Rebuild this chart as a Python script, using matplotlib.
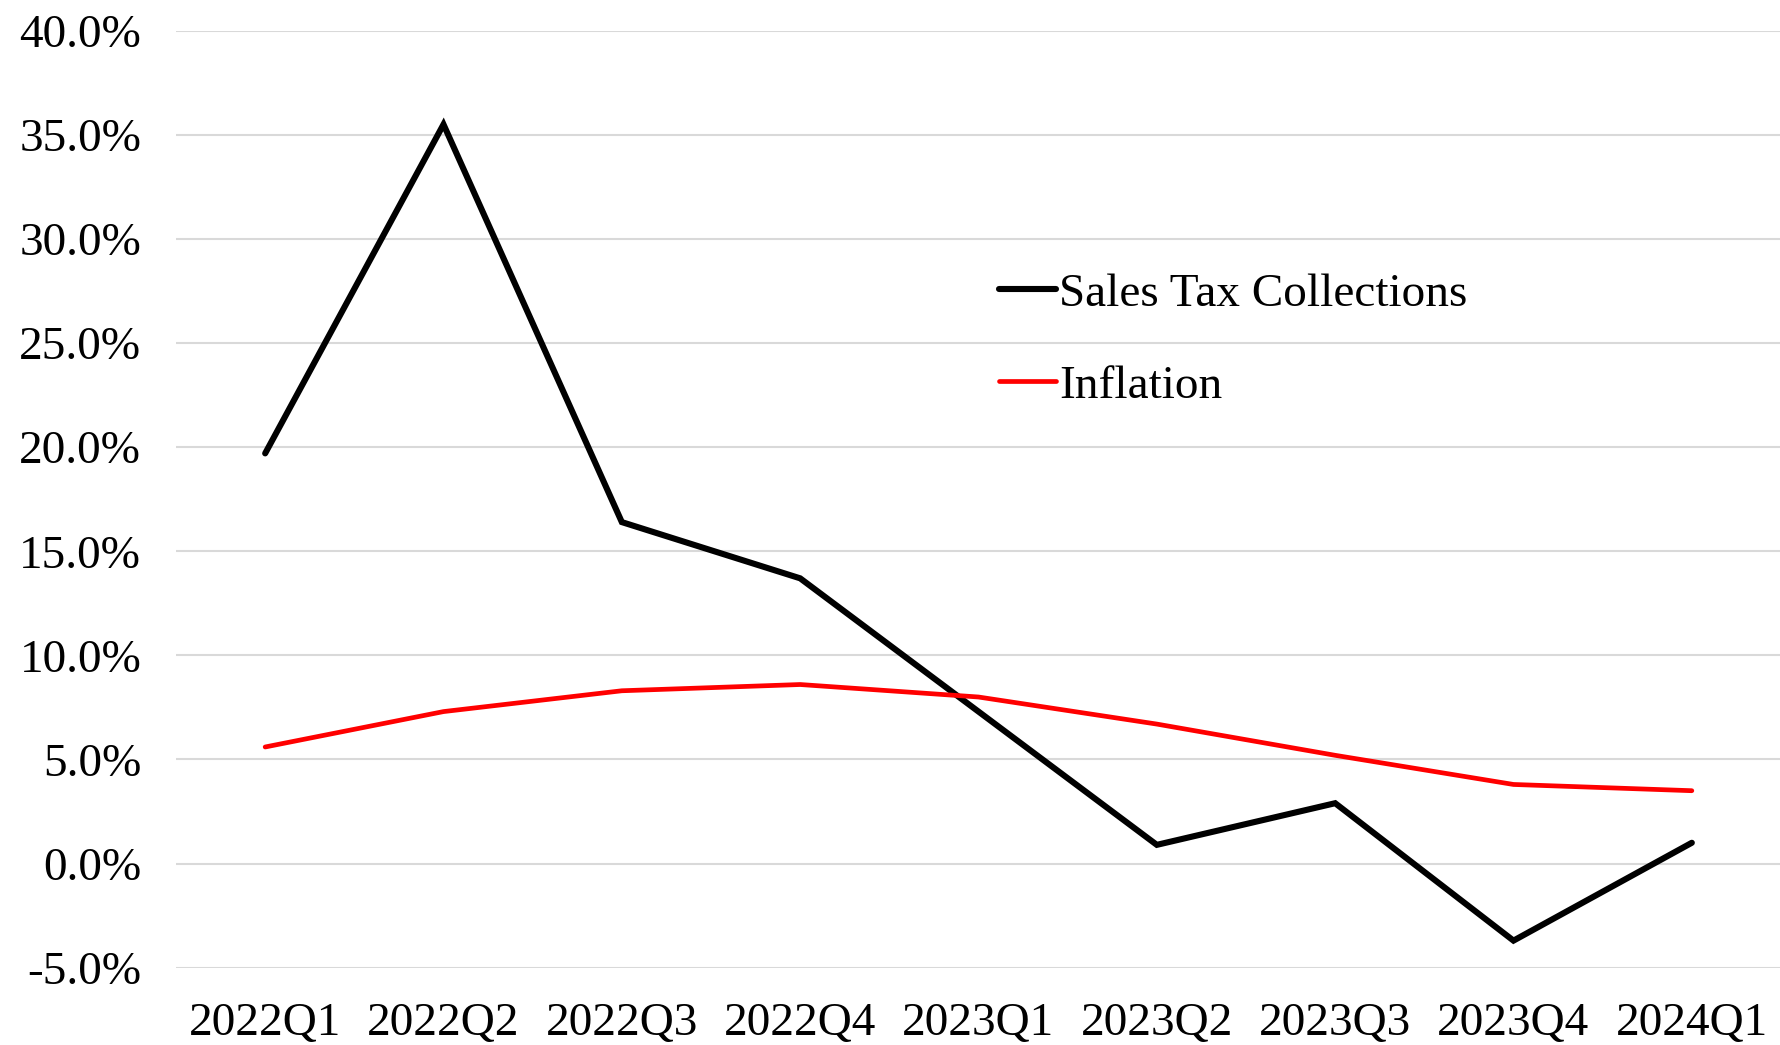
import matplotlib
matplotlib.use("Agg")
import matplotlib.pyplot as plt
from matplotlib.ticker import FuncFormatter

quarters = ["2022Q1", "2022Q2", "2022Q3", "2022Q4", "2023Q1",
            "2023Q2", "2023Q3", "2023Q4", "2024Q1"]
sales_tax = [19.7, 35.5, 16.4, 13.7, 7.3, 0.9, 2.9, -3.7, 1.0]
inflation = [5.6, 7.3, 8.3, 8.6, 8.0, 6.7, 5.2, 3.8, 3.5]
y_ticks = [-5, 0, 5, 10, 15, 20, 25, 30, 35, 40]

plt.rcParams['font.family'] = ['Liberation Serif', 'DejaVu Serif']

fig = plt.figure(figsize=(17.81, 10.45), dpi=100)
ax = fig.add_axes([176/1781, 1 - 967.7/1045, 1 - 176/1781, (967.7 - 30.7)/1045])

x = list(range(len(quarters)))
ax.plot(x, sales_tax, color="black", lw=4.4, label="Sales Tax Collections",
        solid_joinstyle="miter", solid_capstyle="round")
ax.plot(x, inflation, color="#ff0000", lw=3.4, label="Inflation",
        solid_capstyle="round")

ax.set_xlim(-0.5, len(quarters) - 0.5)
ax.set_ylim(-5, 40)
ax.set_yticks(y_ticks)
ax.yaxis.set_major_formatter(FuncFormatter(lambda v, p: f"{v:.1f}%"))
ax.set_xticks(x)
ax.set_xticklabels(quarters)

ax.grid(axis="y", color="#d9d9d9", lw=1.5)
ax.set_axisbelow(True)
for s in ax.spines.values():
    s.set_visible(False)
ax.tick_params(axis="both", length=0, labelsize=34)
ax.tick_params(axis="y", pad=25)
ax.tick_params(axis="x", pad=25)

leg = ax.legend(loc="upper left", bbox_to_anchor=(0.513, 0.742), frameon=False,
                fontsize=34, handlelength=1.2, handletextpad=0.06,
                labelspacing=1.04, borderaxespad=0, borderpad=0)

fig.savefig("out.png", dpi=100)
